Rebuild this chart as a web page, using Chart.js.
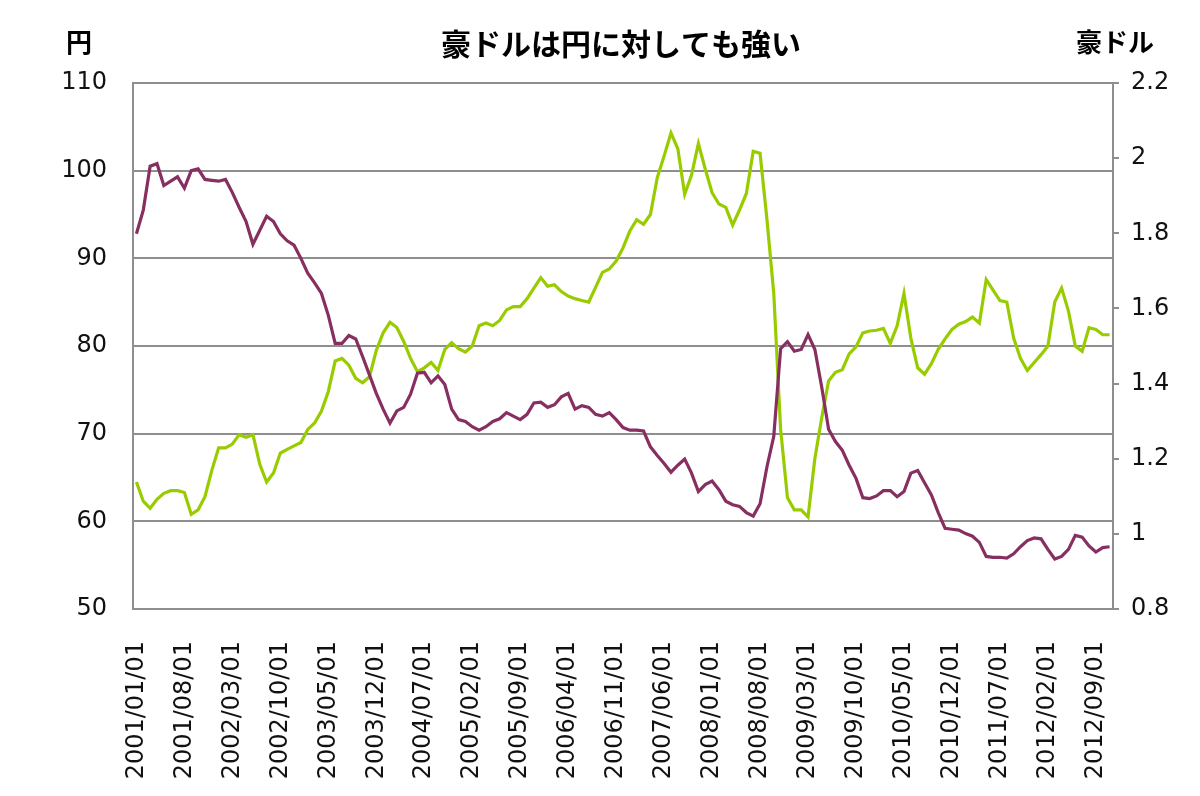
<!DOCTYPE html>
<html>
<head>
<meta charset="utf-8">
<script src="https://cdn.jsdelivr.net/npm/chart.js@4/dist/chart.umd.min.js"></script>
<style>
  html, body { margin: 0; padding: 0; background: #fff; }
  #wrap { width: 1200px; height: 796px; position: relative; }
</style>
</head>
<body>
<div id="wrap"><canvas id="chart"></canvas></div>
<script>
// monthly categories, 2001/01 .. 2012/11
const firstYear = 2001;
const monthCount = 143;
const months = [];
for (let i = 0; i < monthCount; i++) {
  const y = firstYear + Math.floor(i / 12);
  const m = (i % 12) + 1;
  months.push(y + '/' + String(m).padStart(2, '0') + '/01');
}
const labelEvery = 7;

const titleText = '豪ドルは円に対しても強い';
const leftUnit = '円';
const rightUnit = '豪ドル';

// 円 (left axis)
const yenLine = [
  92.8, 95.5, 100.5, 100.8, 98.3, 98.8, 99.3, 98.0, 100.0, 100.2,
  99.0, 98.9, 98.8, 99.0, 97.5, 95.8, 94.2, 91.6, 93.2, 94.8,
  94.2, 92.8, 92.0, 91.5, 90.0, 88.3, 87.2, 86.0, 83.5, 80.3,
  80.3, 81.2, 80.8, 78.8, 76.7, 74.6, 72.8, 71.2, 72.6, 73.0,
  74.5, 76.9, 77.0, 75.8, 76.6, 75.6, 72.8, 71.6, 71.4, 70.8,
  70.4, 70.8, 71.4, 71.7, 72.4, 72.0, 71.6, 72.2, 73.5, 73.6,
  73.0, 73.3, 74.2, 74.6, 72.8, 73.2, 73.0, 72.2, 72.0, 72.4,
  71.6, 70.7, 70.4, 70.4, 70.3, 68.5, 67.5, 66.6, 65.6, 66.4,
  67.1, 65.5, 63.4, 64.2, 64.6, 63.6, 62.3, 61.9, 61.7, 61.0,
  60.6, 62.0, 66.2, 69.7, 79.7, 80.5, 79.4, 79.6, 81.3, 79.6,
  75.3, 70.5, 69.1, 68.1, 66.4, 64.9, 62.7, 62.6, 62.9, 63.5,
  63.5, 62.8, 63.4, 65.5, 65.8, 64.4, 63.0, 61.0, 59.2, 59.1,
  59.0, 58.6, 58.3, 57.6, 56.0, 55.9, 55.9, 55.8, 56.3, 57.1,
  57.8, 58.1, 58.0, 56.8, 55.7, 56.0, 56.8, 58.4, 58.2, 57.2,
  56.5, 57.0, 57.1
];

// 豪ドル (right axis)
const audLine = [
  1.138, 1.087, 1.068, 1.092, 1.108, 1.115, 1.115, 1.110, 1.052, 1.064,
  1.099, 1.169, 1.229, 1.229, 1.239, 1.264, 1.257, 1.264, 1.185, 1.138,
  1.162, 1.215, 1.225, 1.234, 1.243, 1.278, 1.295, 1.327, 1.379, 1.460,
  1.467, 1.449, 1.414, 1.402, 1.418, 1.488, 1.535, 1.563, 1.549, 1.512,
  1.467, 1.432, 1.442, 1.456, 1.435, 1.491, 1.509, 1.493, 1.484, 1.500,
  1.554, 1.561, 1.554, 1.568, 1.596, 1.605, 1.605, 1.626, 1.654, 1.682,
  1.659, 1.663, 1.645, 1.633, 1.626, 1.621, 1.617, 1.656, 1.696, 1.705,
  1.726, 1.761, 1.806, 1.836, 1.824, 1.850, 1.948, 2.006, 2.067, 2.025,
  1.904, 1.955, 2.039, 1.971, 1.908, 1.878, 1.869, 1.822, 1.862, 1.906,
  2.018, 2.013, 1.838, 1.640, 1.278, 1.096, 1.064, 1.064, 1.045, 1.201,
  1.309, 1.407, 1.430, 1.437, 1.479, 1.498, 1.535, 1.540, 1.542, 1.547,
  1.507, 1.554, 1.640, 1.521, 1.442, 1.425, 1.453, 1.491, 1.519, 1.544,
  1.558, 1.565, 1.577, 1.561, 1.677, 1.649, 1.621, 1.617, 1.521, 1.467,
  1.435, 1.456, 1.477, 1.500, 1.617, 1.654, 1.593, 1.500, 1.486, 1.549,
  1.544, 1.530, 1.530
];

const gridGray = '#8e8e8e';
const tickFont = { family: '"DejaVu Sans", sans-serif', size: 24 };

const headerText = {
  id: 'headerText',
  afterDraw(chart) {
    const ctx = chart.ctx;
    ctx.save();
    ctx.fillStyle = '#000';
    ctx.textBaseline = 'middle';
    ctx.textAlign = 'center';
    ctx.font = 'bold 30px "Noto Sans CJK JP"';
    ctx.fillText(titleText, 621, 44);
    ctx.font = 'bold 26px "Noto Sans CJK JP"';
    ctx.fillText(leftUnit, 79, 42);
    ctx.fillText(rightUnit, 1115, 42);
    ctx.restore();
  }
};

new Chart(document.getElementById('chart').getContext('2d'), {
  type: 'line',
  data: {
    labels: months,
    datasets: [{
      label: '円',
      yAxisID: 'y',
      data: yenLine,
      borderColor: '#862f60',
      borderWidth: 3.2,
      pointRadius: 0,
      tension: 0
    }, {
      label: '豪ドル',
      yAxisID: 'y2',
      data: audLine,
      borderColor: '#99cc00',
      borderWidth: 3.2,
      pointRadius: 0,
      tension: 0
    }]
  },
  options: {
    responsive: true,
    maintainAspectRatio: false,
    animation: false,
    layout: { padding: { top: 83, left: 0, right: 0, bottom: 0 } },
    plugins: {
      legend: { display: false },
      title: { display: false },
      tooltip: { enabled: false }
    },
    scales: {
      x: {
        offset: true,
        grid: { display: false },
        border: { color: gridGray, width: 2 },
        ticks: {
          autoSkip: false,
          minRotation: 90,
          maxRotation: 90,
          padding: 24,
          color: '#111',
          font: tickFont,
          callback: function (value, index) {
            return index % labelEvery === 0 ? months[index] : '';
          }
        },
        afterFit: function (scale) { scale.height = 187; }
      },
      y: {
        position: 'left',
        min: 50,
        max: 110,
        ticks: { stepSize: 10, padding: 26, color: '#111', font: tickFont },
        grid: { color: gridGray, lineWidth: 2, drawTicks: false },
        border: { color: gridGray, width: 2 },
        afterFit: function (scale) { scale.width = 133; }
      },
      y2: {
        position: 'right',
        min: 0.8,
        max: 2.2,
        ticks: {
          stepSize: 0.2,
          padding: 12,
          color: '#111',
          font: tickFont,
          callback: function (value) {
            return String(Number(value.toFixed(1)));
          }
        },
        grid: { drawOnChartArea: false, drawTicks: true, tickLength: 6, color: gridGray, lineWidth: 2 },
        border: { color: gridGray, width: 2 },
        afterFit: function (scale) { scale.width = 87; }
      }
    }
  },
  plugins: [headerText]
});
</script>
</body>
</html>
